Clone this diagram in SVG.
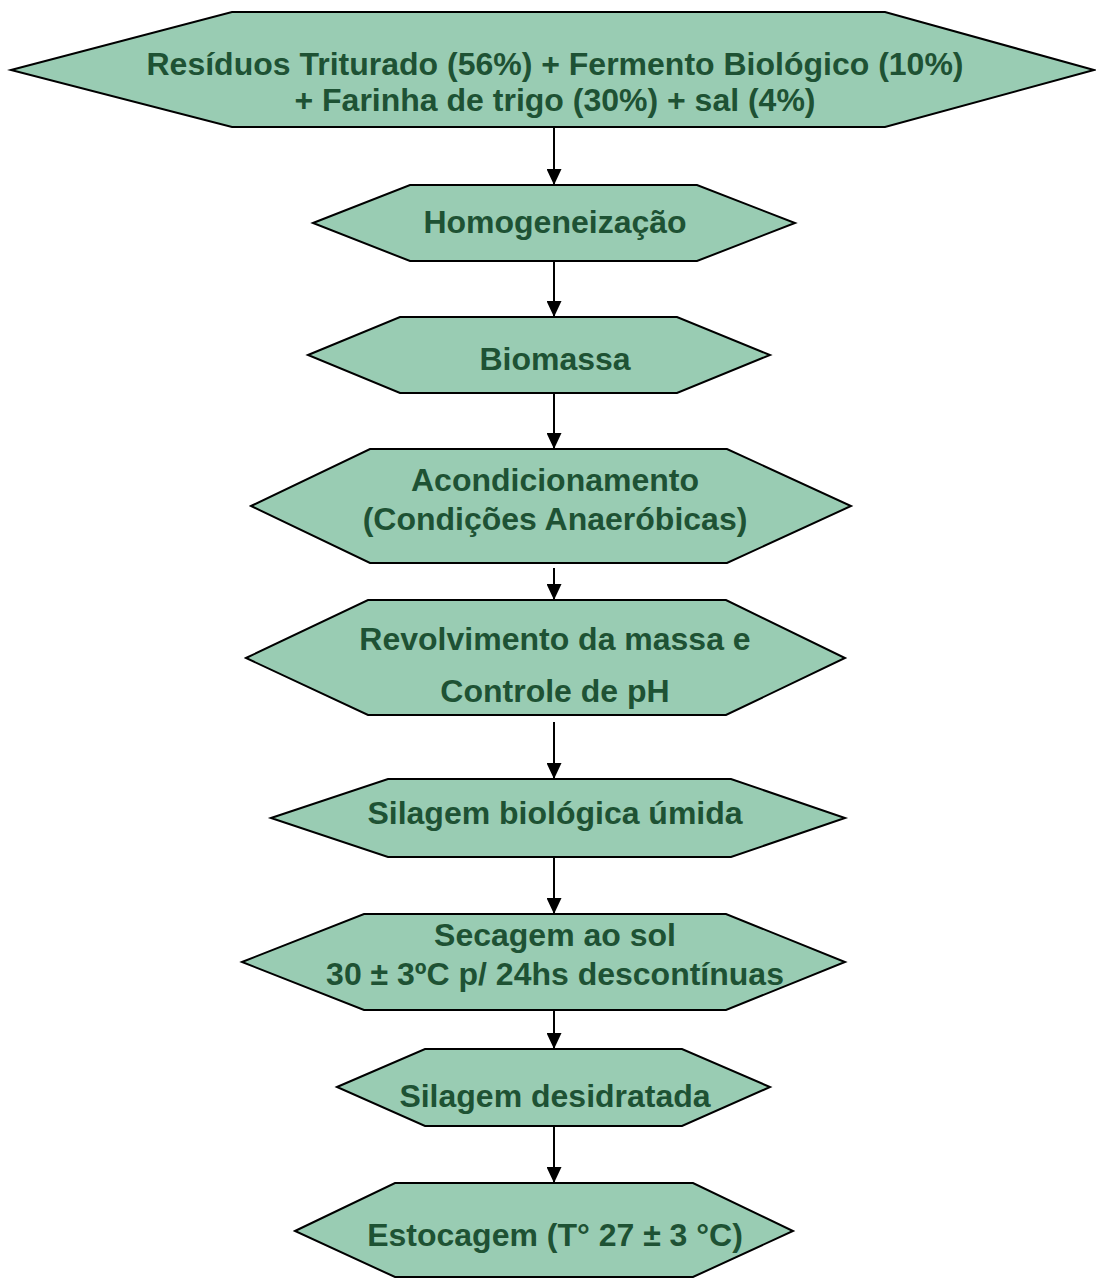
<svg xmlns="http://www.w3.org/2000/svg" width="1096" height="1278" viewBox="0 0 1096 1278">
<style>
.n{fill:#99CCB3;stroke:#000;stroke-width:2;stroke-linejoin:miter}
.t{font-family:"Liberation Sans",Arial,sans-serif;font-weight:bold;font-size:32px;fill:#1E5234;text-anchor:middle}
.c{stroke:#000;stroke-width:2;fill:none}
</style>
<defs>
<marker id="ah" markerUnits="userSpaceOnUse" markerWidth="16" markerHeight="15" refX="16" refY="7.5" orient="auto" viewBox="0 0 16 15">
<path d="M0,0 L16,7.5 L0,15 Z" fill="#000"/>
</marker>
</defs>
<rect width="1096" height="1278" fill="#fff"/>
<g id="connectors">
<line class="c" x1="554" y1="127" x2="554" y2="185" marker-end="url(#ah)"/>
<line class="c" x1="554" y1="261" x2="554" y2="317" marker-end="url(#ah)"/>
<line class="c" x1="554" y1="394" x2="554" y2="449" marker-end="url(#ah)"/>
<line class="c" x1="554" y1="568" x2="554" y2="600" marker-end="url(#ah)"/>
<line class="c" x1="554" y1="722" x2="554" y2="779" marker-end="url(#ah)"/>
<line class="c" x1="554" y1="857" x2="554" y2="914" marker-end="url(#ah)"/>
<line class="c" x1="554" y1="995" x2="554" y2="1049" marker-end="url(#ah)"/>
<line class="c" x1="554" y1="1126" x2="554" y2="1183" marker-end="url(#ah)"/>
</g>
<g id="n1">
<polygon class="n" points="11,70 232,12 885,12 1094,70 885,127 232,127"/>
<text class="t" x="555" y="75">Resíduos Triturado (56%) + Fermento Biológico (10%)</text>
<text class="t" x="555" y="111">+ Farinha de trigo (30%) + sal (4%)</text>
</g>
<g id="n2">
<polygon class="n" points="313,223 410,185 697,185 795,223 697,261 410,261"/>
<text class="t" x="555" y="233">Homogeneização</text>
</g>
<g id="n3">
<polygon class="n" points="308,355 400,317 677,317 770,355 677,393 400,393"/>
<text class="t" x="555" y="370">Biomassa</text>
</g>
<g id="n4">
<polygon class="n" points="251,506 370,449 727,449 851,506 727,563 370,563"/>
<text class="t" x="555" y="491">Acondicionamento</text>
<text class="t" x="555" y="530">(Condições Anaeróbicas)</text>
</g>
<g id="n5">
<polygon class="n" points="246,658 368,600 726,600 845,658 726,715 368,715"/>
<text class="t" x="555" y="650">Revolvimento da massa e</text>
<text class="t" x="555" y="702">Controle de pH</text>
</g>
<g id="n6">
<polygon class="n" points="271,818 388,779 731,779 845,818 731,857 388,857"/>
<text class="t" x="555" y="824">Silagem biológica úmida</text>
</g>
<g id="n7">
<polygon class="n" points="242,962 364,914 726,914 845,962 726,1010 364,1010"/>
<text class="t" x="555" y="946">Secagem ao sol</text>
<text class="t" x="555" y="985">30 ± 3ºC p/ 24hs descontínuas</text>
</g>
<g id="n8">
<polygon class="n" points="337,1087 425,1049 682,1049 770,1087 682,1126 425,1126"/>
<text class="t" x="555" y="1107">Silagem desidratada</text>
</g>
<g id="n9">
<polygon class="n" points="295,1231 395,1183 693,1183 793,1231 693,1277 395,1277"/>
<text class="t" x="555" y="1246">Estocagem (T° 27 ± 3 °C)</text>
</g>
</svg>
